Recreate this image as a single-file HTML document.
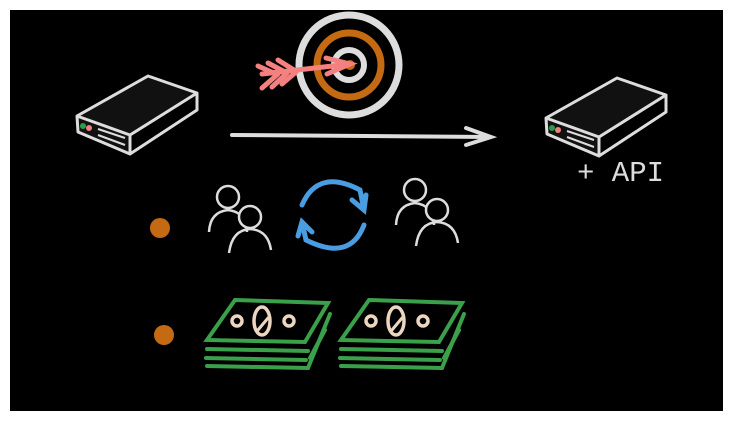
<!DOCTYPE html>
<html><head><style>body{margin:0;background:#fff}svg{display:block}</style></head><body>
<svg width="733" height="421" viewBox="0 0 733 421" xmlns="http://www.w3.org/2000/svg">
<rect x="0" y="0" width="733" height="421" fill="#fff"/>
<rect x="10" y="10" width="713" height="401" fill="#000"/>
<g id="srv" stroke="#ddd" stroke-width="3" fill="#111" stroke-linejoin="round">
<polygon points="77,116 148,76 197,93 130,135 130,154 78,132"/>
<polyline points="77,116 130,135" fill="none"/>
<polyline points="197,93 197,110 130,154" fill="none"/>
<line x1="98" y1="129" x2="125" y2="138" stroke-width="2"/>
<line x1="98" y1="135" x2="125" y2="145" stroke-width="2"/>
<circle cx="83" cy="126" r="3" fill="#2a9d4a" stroke="none"/>
<circle cx="89" cy="128" r="3" fill="#f08080" stroke="none"/>
</g>
<use href="#srv" transform="translate(469,2)"/>
<text x="577" y="181" font-family="Liberation Mono, monospace" font-size="29" fill="#ddd">+ API</text>
<line x1="232" y1="135" x2="490" y2="137" stroke="#ddd" stroke-width="4" stroke-linecap="round"/>
<polyline points="466,128 491,137 466,145" fill="none" stroke="#ddd" stroke-width="4" stroke-linecap="round"/>
<circle cx="349" cy="65" r="50" fill="none" stroke="#ddd" stroke-width="7"/>
<circle cx="349" cy="65" r="32" fill="none" stroke="#c46a12" stroke-width="7"/>
<circle cx="349" cy="65" r="15" fill="none" stroke="#ddd" stroke-width="6"/>
<circle cx="350" cy="65" r="5" fill="#c46a12"/>
<g stroke="#f58080" stroke-width="5" stroke-linecap="round" fill="none">
<line x1="262" y1="74" x2="350" y2="64"/>
<polyline points="326,58 350,64 327,74"/>
<line x1="258" y1="66" x2="276" y2="74"/><line x1="262" y1="88" x2="278" y2="74"/>
<line x1="268" y1="63" x2="285" y2="72"/><line x1="272" y1="87" x2="287" y2="73"/>
<line x1="278" y1="60" x2="294" y2="70"/><line x1="282" y1="84" x2="296" y2="72"/>
</g>
<g id="ppl" stroke="#ddd" stroke-width="2.5" fill="#000">
<path d="M209,232 Q210,212 228,210 Q246,212 247,232" fill="none"/>
<circle cx="228" cy="197" r="11"/>
<path d="M229,253 Q232,230 250,229 Q268,230 271,250" fill="none"/>
<circle cx="250" cy="217" r="11"/>
</g>
<use href="#ppl" transform="translate(187,-7)"/>
<g stroke="#4a9de0" stroke-width="5" fill="none" stroke-linecap="round">
<path d="M302,205 Q318,168 360,190 L364,210"/>
<polyline points="352,200 364,210 366,195"/>
<path d="M364,225 Q350,262 306,240 L302,222"/>
<polyline points="298,236 302,222 312,232"/>
</g>
<circle cx="160" cy="228" r="10" fill="#c46a12"/>
<circle cx="164" cy="335" r="10" fill="#c46a12"/>
<g id="money" stroke="#3aa04a" stroke-width="4" fill="none" stroke-linecap="round">
<polygon points="235,300 328,303 305,342 207,340" fill="#000"/>
<line x1="207" y1="349" x2="308" y2="351"/><line x1="206" y1="358" x2="306" y2="360"/><line x1="207" y1="366" x2="308" y2="368"/>
<line x1="330" y1="314" x2="308" y2="368"/>
<line x1="325" y1="330" x2="310" y2="358"/>
<circle cx="237" cy="321" r="5" stroke="#ecd6c0" stroke-width="3.5"/>
<circle cx="289" cy="321" r="5" stroke="#ecd6c0" stroke-width="3.5"/>
<ellipse cx="262" cy="321" rx="8" ry="14" stroke="#ecd6c0" stroke-width="3.5"/>
<line x1="258" y1="330" x2="268" y2="318" stroke="#ecd6c0" stroke-width="3"/>
</g>
<use href="#money" transform="translate(134,0)"/>
</svg>
</body></html>
